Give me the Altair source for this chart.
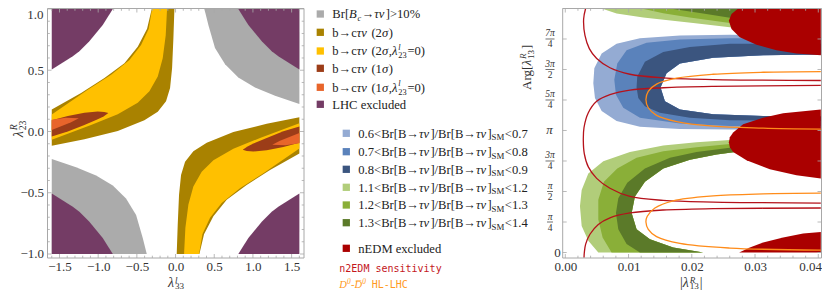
import math
import altair as alt
import pandas as pd

# ---------------- colours ----------------
C_BC, C_2S, C_2S0, C_1S, C_1S0, C_LHC = '#ABABAB', '#A98200', '#FFC000', '#9C3D18', '#E8652B', '#743C65'
C_B06, C_B07, C_B08 = '#94ABD3', '#5A82BB', '#3B557F'
C_G11, C_G12, C_G13 = '#B1CD7A', '#8AAF38', '#5B7A29'
C_NEDM, C_N2EDM, C_DD = '#AA0000', '#B5121B', '#FF8C1A'
SERIF, MONO = 'Liberation Serif', 'DejaVu Sans Mono'
TXT, TICK, FRAME = '#333333', '#A8A8A8', '#A8A8A8'

# ---------------- left panel data (x = lambda^l_33, y = lambda^R_23) ----------------
LHC_TR = [(0.811, 1.0), (0.941, 0.870), (1.114, 0.736), (1.243, 0.655), (1.328, 0.615), (1.6, 0.507), (1.6, 1.0)]
BC_TR = [(0.372, 1.0), (0.424, 0.870), (0.510, 0.682), (0.640, 0.548), (0.811, 0.440), (1.027, 0.359),
         (1.286, 0.291), (1.6, 0.224), (1.6, 1.0)]
B2S_BR = [(0.015, -1.0), (0.028, -0.759), (0.045, -0.516), (0.071, -0.355), (0.123, -0.247), (0.230, -0.161),
          (0.403, -0.091), (0.747, -0.005), (1.178, 0.063), (1.6, 0.117), (1.6, -0.180), (1.221, -0.314),
          (0.919, -0.436), (0.661, -0.557), (0.489, -0.692), (0.368, -0.839), (0.308, -1.0)]
B2S0_BR = [(0.110, -1.0), (0.127, -0.786), (0.166, -0.597), (0.230, -0.449), (0.338, -0.328), (0.489, -0.234),
           (0.747, -0.140), (1.092, -0.053), (1.6, 0.068), (1.6, -0.139), (1.135, -0.341), (0.833, -0.463),
           (0.596, -0.584), (0.446, -0.705), (0.347, -0.839), (0.304, -1.0)]
B1S_BR = [(0.868, -0.150), (0.930, -0.122), (1.006, -0.099), (1.178, -0.053), (1.393, 0.001), (1.6, 0.041),
          (1.6, -0.091), (1.393, -0.126), (1.178, -0.153), (1.006, -0.163), (0.920, -0.160)]
B1S0_BR = [(1.25, -0.108), (1.35, -0.075), (1.6, -0.012), (1.6, -0.095), (1.42, -0.112)]

def neg(p): return [(-x, -y) for x, y in p]
def fx(p): return [(-x, y) for x, y in p]
def fy(p): return [(x, -y) for x, y in p]

# ---------------- right panel data (x = |lambda^R_13|, y = Arg) ----------------
BLUE_HOLE = [(0.0404, 5.097), (0.03128, 5.081), (0.02338, 5.013), (0.01812, 4.869), (0.01601, 4.615),
             (0.01506, 4.252), (0.01575, 3.896), (0.01812, 3.685), (0.02338, 3.558), (0.03128, 3.516), (0.0404, 3.50)]
BLUE_06 = [(0.0404, 5.546), (0.03444, 5.588), (0.02602, 5.605), (0.01812, 5.588), (0.01180, 5.520), (0.00811, 5.377),
           (0.00575, 5.123), (0.00459, 4.742), (0.00443, 4.361), (0.00469, 3.981), (0.00575, 3.642), (0.00811, 3.389),
           (0.01180, 3.236), (0.01812, 3.177), (0.02602, 3.169), (0.0404, 3.169)]
BLUE_07 = [(0.0404, 5.486), (0.03444, 5.520), (0.02602, 5.520), (0.01812, 5.486), (0.01285, 5.402), (0.00969, 5.208),
           (0.00822, 4.869), (0.00775, 4.446), (0.00801, 4.065), (0.00917, 3.727), (0.01180, 3.473), (0.01812, 3.321),
           (0.02602, 3.257), (0.0404, 3.257)]
BLUE_08 = [(0.0404, 5.377), (0.02602, 5.377), (0.01970, 5.292), (0.01549, 5.165), (0.01259, 4.912), (0.01138, 4.530),
           (0.01127, 4.252), (0.01154, 3.981), (0.01259, 3.769), (0.01496, 3.600), (0.01970, 3.473), (0.02602, 3.405),
           (0.0404, 3.389)]
GREEN_HOLE = [(0.02180, 0.0), (0.01706, 0.131), (0.01338, 0.343), (0.01127, 0.596), (0.01049, 1.019), (0.01101, 1.443),
              (0.01259, 1.823), (0.01549, 2.162), (0.01970, 2.390), (0.02391, 2.525), (0.02865, 2.627)]
GREEN_11 = [(0.02865, 2.923), (0.02602, 2.898), (0.02075, 2.838), (0.01549, 2.754), (0.01022, 2.585), (0.00601, 2.352),
            (0.00364, 2.035), (0.00259, 1.612), (0.00232, 1.189), (0.00259, 0.681), (0.00364, 0.300), (0.00522, 0.0)]
GREEN_12 = [(0.02865, 2.821), (0.02602, 2.796), (0.02075, 2.711), (0.01549, 2.610), (0.01127, 2.441), (0.00822, 2.162),
            (0.00611, 1.823), (0.00522, 1.358), (0.00522, 0.850), (0.00590, 0.385), (0.00732, 0.0)]
GREEN_13 = [(0.02865, 2.728), (0.02602, 2.695), (0.02075, 2.585), (0.01654, 2.441), (0.01259, 2.162), (0.00980, 1.798),
            (0.00838, 1.400), (0.00801, 1.019), (0.00838, 0.596), (0.00969, 0.216), (0.01180, 0.0)]
GREEN_TOP_11 = [(0.00575, 6.283), (0.02865, 6.283), (0.02865, 5.715), (0.02602, 5.799), (0.02023, 5.909),
                (0.01233, 6.054), (0.00811, 6.155)]
GREEN_TOP_12 = [(0.01206, 6.283), (0.02865, 6.283), (0.02865, 5.859), (0.02602, 5.909), (0.01970, 6.054), (0.01549, 6.164)]
GREEN_TOP_13 = [(0.01654, 6.283), (0.02865, 6.283), (0.02865, 5.994), (0.02602, 6.045), (0.02180, 6.155)]
NEDM_TOP = [(0.02733, 6.283), (0.02628, 6.139), (0.02586, 5.969), (0.02628, 5.757), (0.02759, 5.546), (0.03023, 5.352),
            (0.03339, 5.208), (0.03655, 5.123), (0.0404, 5.081), (0.0404, 6.283)]
NEDM_MID = [(0.0404, 3.685), (0.03444, 3.583), (0.03128, 3.473), (0.02812, 3.304), (0.02654, 3.092), (0.02602, 2.965),
            (0.02586, 2.838), (0.02602, 2.711), (0.02654, 2.585), (0.02865, 2.373), (0.03234, 2.145), (0.03655, 1.992),
            (0.0404, 1.908)]
NEDM_BOT = [(0.02749, 0.0), (0.02918, 0.131), (0.03128, 0.258), (0.03444, 0.385), (0.03760, 0.487), (0.0404, 0.529),
            (0.0404, 0.0)]
N2EDM_1 = [(0.00322, 6.29), (0.00290, 6.011), (0.00311, 5.588), (0.00380, 5.250), (0.00496, 4.996), (0.00706, 4.758),
           (0.01022, 4.590), (0.01549, 4.497), (0.02338, 4.454), (0.0404, 4.429)]
N2EDM_2 = [(0.0404, 4.302), (0.02338, 4.277), (0.01549, 4.243), (0.01022, 4.184), (0.00706, 4.065), (0.00496, 3.896),
           (0.00364, 3.600), (0.00296, 3.219), (0.00285, 2.881), (0.00301, 2.542), (0.00364, 2.204), (0.00496, 1.908),
           (0.00706, 1.654), (0.01022, 1.443), (0.01549, 1.342), (0.02338, 1.299), (0.0404, 1.273)]
N2EDM_3 = [(0.0404, 1.146), (0.02338, 1.129), (0.01549, 1.095), (0.01022, 1.019), (0.00706, 0.893), (0.00522, 0.723),
           (0.00390, 0.470), (0.00322, 0.216), (0.00301, 0.0), (0.00296, -0.135)]
DD_1 = [(0.0404, 4.658), (0.03128, 4.641), (0.02338, 4.590), (0.01759, 4.488), (0.01443, 4.336), (0.01312, 4.150),
        (0.01275, 3.938), (0.01312, 3.727), (0.01443, 3.532), (0.01759, 3.372), (0.02338, 3.253), (0.03128, 3.202),
        (0.0404, 3.177)]
DD_2 = [(0.0404, 1.527), (0.03128, 1.510), (0.02338, 1.459), (0.01706, 1.332), (0.01417, 1.146), (0.01296, 0.935),
        (0.01275, 0.783), (0.01312, 0.596), (0.01443, 0.410), (0.01812, 0.233), (0.02602, 0.114), (0.0404, 0.063)]

# ---------------- ticks ----------------
LX_MAJOR = [-1.5, -1.0, -0.5, 0.0, 0.5, 1.0, 1.5]
LX_MINOR = [v / 10 for v in range(-16, 17) if v % 5 != 0]
LY_MAJOR = [-1.0, -0.5, 0.0, 0.5, 1.0]
LY_MINOR = [v / 10 for v in range(-10, 11) if v % 5 != 0]
RX_MAJOR = [0.0, 0.01, 0.02, 0.03, 0.04]
RX_MINOR = [v * 0.002 for v in range(0, 21) if v % 5 != 0]
RY_K = [0, 1, 2, 3, 4, 5, 6, 7, 8]
RY_FRAC = [(1, 'π', '4'), (2, 'π', '2'), (3, '3π', '4'), (5, '5π', '4'), (6, '3π', '2'), (7, '7π', '4')]

# ---------------- scales / axes ----------------
LX = alt.Scale(domain=[-1.655, 1.66], range=[39.5, 296], nice=False, zero=False)
LY = alt.Scale(domain=[-1.0327, 1.008], range=[250, 0], nice=False, zero=False)
RX = alt.Scale(domain=[-0.00041, 0.04051], range=[554.7, 813.5], nice=False, zero=False)
RY = alt.Scale(domain=[-0.1416, 6.296], range=[250, 0], nice=False, zero=False)
AXC = dict(domain=False, ticks=False, tickSize=0, grid=False, title=None, labelFont=SERIF,
           labelFontSize=13, labelColor=TXT, labelFlush=False)
LX_AX = alt.Axis(orient='bottom', offset=-33, values=LX_MAJOR, format='.1f', labelPadding=2.5, **AXC)
LY_AX = alt.Axis(orient='left', offset=-39.5, values=[-1.0, -0.5, 0.0, 0.5], format='.1f', labelPadding=4, **AXC)
RX_AX = alt.Axis(orient='bottom', offset=-33, values=RX_MAJOR[:-1], format='.2f', labelPadding=2.5, **AXC)


def pdf(polys):
    return pd.DataFrame([dict(pid=p, i=i, x=x, y=y) for p, pts in enumerate(polys) for i, (x, y) in enumerate(pts)])


def fill_layer(polys, color, xs, ys, xax, yax):
    return alt.Chart(pdf(polys)).mark_line(filled=True, fill=color, strokeWidth=0).encode(
        x=alt.X('x:Q', scale=xs, axis=xax), y=alt.Y('y:Q', scale=ys, axis=yax),
        order='i:Q', detail='pid:N')


def line_layer(lines, color, width, xs, ys, xax):
    return alt.Chart(pdf(lines)).mark_line(color=color, strokeWidth=width, interpolate='catmull-rom').encode(
        x=alt.X('x:Q', scale=xs, axis=xax), y=alt.Y('y:Q', scale=ys, axis=None),
        order='i:Q', detail='pid:N')


def xticks(vals, xs, xax, y1, y2):
    return alt.Chart(pd.DataFrame({'v': vals})).mark_rule(color=TICK, strokeWidth=0.8).encode(
        x=alt.X('v:Q', scale=xs, axis=xax), y=alt.value(y1), y2=alt.value(y2))


def yticks(vals, ys, yax, x1, x2):
    return alt.Chart(pd.DataFrame({'v': vals})).mark_rule(color=TICK, strokeWidth=0.8).encode(
        y=alt.Y('v:Q', scale=ys, axis=yax), x=alt.value(x1), x2=alt.value(x2))


# ---------------- left panel ----------------
left_layers = [
    fill_layer([BC_TR, neg(BC_TR)], C_BC, LX, LY, LX_AX, LY_AX),
    fill_layer([B2S_BR, neg(B2S_BR)], C_2S, LX, LY, LX_AX, LY_AX),
    fill_layer([B2S0_BR, neg(B2S0_BR)], C_2S0, LX, LY, LX_AX, LY_AX),
    fill_layer([B1S_BR, neg(B1S_BR)], C_1S, LX, LY, LX_AX, LY_AX),
    fill_layer([B1S0_BR, neg(B1S0_BR)], C_1S0, LX, LY, LX_AX, LY_AX),
    fill_layer([LHC_TR, fx(LHC_TR), neg(LHC_TR), fy(LHC_TR)], C_LHC, LX, LY, LX_AX, LY_AX),
    xticks(LX_MAJOR, LX, LX_AX, 250, 246), xticks(LX_MINOR, LX, LX_AX, 250, 247.7),
    xticks(LX_MAJOR, LX, LX_AX, 0.5, 4.5), xticks(LX_MINOR, LX, LX_AX, 0.5, 2.8),
    yticks(LY_MAJOR, LY, LY_AX, 39.5, 43.5), yticks(LY_MINOR, LY, LY_AX, 39.5, 41.8),
    yticks(LY_MAJOR, LY, LY_AX, 296, 292), yticks(LY_MINOR, LY, LY_AX, 296, 293.7),
    alt.Chart(pd.DataFrame({'v': [1.0], 't': ['1.0']})).mark_text(
        align='right', baseline='top', font=SERIF, fontSize=13, color=TXT).encode(
        x=alt.value(35.5), y=alt.Y('v:Q', scale=LY, axis=LY_AX), text='t:N'),
]
left = alt.layer(*left_layers)

# ---------------- right panel ----------------
frac = pd.DataFrame([dict(t=k * math.pi / 4, num=n, den=d, bx1=542 - (4.5 if len(n) > 1 else 3),
                          bx2=542 + (4.5 if len(n) > 1 else 3)) for k, n, d in RY_FRAC])
single = pd.DataFrame([dict(t=0.0, s='0')])
single_pi = pd.DataFrame([dict(t=math.pi, s='π')])
last_x = pd.DataFrame([dict(v=RX_MAJOR[-1], s='0.04')])
right_layers = [
    fill_layer([BLUE_06 + BLUE_HOLE[::-1]], C_B06, RX, RY, RX_AX, None),
    fill_layer([BLUE_07 + BLUE_HOLE[::-1]], C_B07, RX, RY, RX_AX, None),
    fill_layer([BLUE_08 + BLUE_HOLE[::-1]], C_B08, RX, RY, RX_AX, None),
    fill_layer([GREEN_11 + GREEN_HOLE, GREEN_TOP_11], C_G11, RX, RY, RX_AX, None),
    fill_layer([GREEN_12 + GREEN_HOLE, GREEN_TOP_12], C_G12, RX, RY, RX_AX, None),
    fill_layer([GREEN_13 + GREEN_HOLE, GREEN_TOP_13], C_G13, RX, RY, RX_AX, None),
    fill_layer([NEDM_TOP, NEDM_MID, NEDM_BOT], C_NEDM, RX, RY, RX_AX, None),
    line_layer([N2EDM_1, N2EDM_2, N2EDM_3], C_N2EDM, 1.3, RX, RY, RX_AX),
    line_layer([DD_1, DD_2], C_DD, 1.3, RX, RY, RX_AX),
    xticks(RX_MAJOR, RX, RX_AX, 250, 246), xticks(RX_MINOR, RX, RX_AX, 250, 247.7),
    xticks(RX_MAJOR, RX, RX_AX, 0.5, 4.5), xticks(RX_MINOR, RX, RX_AX, 0.5, 2.8),
    yticks([k * math.pi / 4 for k in RY_K], RY, None, 554.7, 558.7),
    yticks([k * math.pi / 4 for k in RY_K], RY, None, 813.5, 809.5),
    alt.Chart(last_x).mark_text(align='right', baseline='top', font=SERIF, fontSize=13, color=TXT).encode(
        x=alt.value(814), y=alt.value(252.5), text='s:N'),
    alt.Chart(frac).mark_text(align='center', baseline='alphabetic', font=SERIF, fontStyle='italic',
                              fontSize=9.5, color=TXT, dy=-2.5).encode(
        x=alt.value(542), y=alt.Y('t:Q', scale=RY, axis=None), text='num:N'),
    alt.Chart(frac).mark_text(align='center', baseline='alphabetic', font=SERIF,
                              fontSize=9.5, color=TXT, dy=8.5).encode(
        x=alt.value(542), y=alt.Y('t:Q', scale=RY, axis=None), text='den:N'),
    alt.Chart(frac).mark_rule(color=TXT, strokeWidth=0.7).encode(
        x=alt.X('bx1:Q', scale=None), x2='bx2:Q', y=alt.Y('t:Q', scale=RY, axis=None)),
    alt.Chart(single).mark_text(align='center', baseline='middle', font=SERIF, fontSize=13, color=TXT).encode(
        x=alt.value(549.5), y=alt.Y('t:Q', scale=RY, axis=None), text='s:N'),
    alt.Chart(single_pi).mark_text(align='center', baseline='middle', font=SERIF, fontStyle='italic',
                                   fontSize=13, color=TXT).encode(
        x=alt.value(541.5), y=alt.Y('t:Q', scale=RY, axis=None), text='s:N'),
]
right = alt.layer(*right_layers)

# ---------------- legend and titles (text) ----------------
W = {'.': .25, ',': .25, '<': .564, '>': .564, '=': .564, '%': .833, '/': .278, '[': .333, ']': .333,
     '(': .333, ')': .333, ' ': .25, '|': .2, '-': .333, '–': .5, '→': 1.0, 'τ': .44, 'ν': .47, 'σ': .55,
     'λ': .5, 'π': .55, 'A': .722, 'B': .667, 'C': .667, 'D': .722, 'E': .611, 'H': .722, 'L': .611,
     'M': .889, 'N': .722, 'R': .667, 'S': .556, 'a': .444, 'b': .5, 'c': .444, 'd': .5, 'e': .444,
     'g': .5, 'i': .278, 'l': .278, 'n': .5, 'r': .333, 's': .389, 't': .278, 'u': .5, 'v': .5,
     'x': .5, 'y': .5, '\u0305': 0.0}


def tw(s, size):
    return sum(W.get(c, 0.5) for c in s) * size


def set_text(segs, x0, y0, size, color, angle=0, font=SERIF, ratio=0.7, up=0.40, down=0.20):
    a = math.radians(angle)
    rx, ry = math.cos(a), math.sin(a)
    ux, uy = math.sin(a), -math.cos(a)
    out, d = [], 0.0
    for seg in segs:
        kind = seg[0]
        s2 = size * ratio
        if kind in ('n', 'i'):
            items, adv = [(seg[1], kind, size, 0.0)], tw(seg[1], size)
        elif kind == 'sub':
            items, adv = [(seg[1], seg[2], s2, -0.22 * size)], tw(seg[1], s2) + 0.5
        elif kind == 'sup':
            items, adv = [(seg[1], seg[2], s2, up * size)], tw(seg[1], s2) + 0.5
        else:
            items = [(seg[1], seg[3], s2, up * size), (seg[2], 'n', s2, -down * size)]
            adv = max(tw(seg[1], s2), tw(seg[2], s2)) + 0.8
        for t, st, sz, h in items:
            lead = len(t) - len(t.lstrip(' '))   # SVG drops leading blanks: shift instead
            dd = d + lead * W[' '] * sz
            out.append(dict(px=x0 + dd * rx + h * ux, py=y0 + dd * ry + h * uy, txt=t.strip(' '), sz=sz,
                            st=st, col=color, ang=float(angle), font=font))
        d += adv
    return out


def bct(n, zero):
    s = [('n', 'b→c'), ('i', 'τν'), ('n', ' (' + n), ('i', 'σ')]
    if zero:
        s += [('n', ','), ('i', 'λ'), ('subsup', 'l', '23', 'i'), ('n', '=0)')]
    else:
        s += [('n', ')')]
    return s


LEGEND_1 = [(C_BC, [('n', 'Br['), ('i', 'B'), ('sub', 'c', 'i'), ('n', '→'), ('i', 'τν'), ('n', ']>10%')]),
            (C_2S, bct('2', False)), (C_2S0, bct('2', True)), (C_1S, bct('1', False)), (C_1S0, bct('1', True)),
            (C_LHC, [('n', 'LHC excluded')])]
LEGEND_1_Y = [6, 24.3, 43, 60.3, 79.3, 96.3]
RANGES = [('0.6', '0.7'), ('0.7', '0.8'), ('0.8', '0.9'), ('1.1', '1.2'), ('1.2', '1.3'), ('1.3', '1.4')]
LEGEND_2 = [(c, [('n', lo + '<Br[B→'), ('i', 'τν'), ('n', ']/Br[B→'), ('i', 'τν'), ('n', ']'), ('sub', 'SM', 'n'),
                 ('n', '<' + hi)]) for c, (lo, hi) in zip([C_B06, C_B07, C_B08, C_G11, C_G12, C_G13], RANGES)]
LEGEND_2 += [(C_NEDM, [('n', 'nEDM excluded')])]
LEGEND_2_Y = [125.3, 143.7, 161.3, 179.3, 197, 214.7, 240.3]

texts, squares = [], []
FS = 12.6
for (c, segs), yc in zip(LEGEND_1, LEGEND_1_Y):
    squares.append(dict(sx=312.3, sy=yc, col=c))
    texts += set_text(segs, 324.3, yc + 4.2, FS, '#222222', ratio=0.66, up=0.42, down=0.24)
for (c, segs), yc in zip(LEGEND_2, LEGEND_2_Y):
    squares.append(dict(sx=338.3, sy=yc, col=c))
    texts += set_text(segs, 350.3, yc + 4.2, FS, '#222222')
texts += set_text([('n', 'n2EDM sensitivity')], 331.3, 263.8, 10, '#C4161C', font=MONO)
texts += set_text([('i', 'D'), ('sup', '0', 'i'), ('n', '-'), ('i', 'D\u0305'), ('sup', '0', 'i')],
                  331.3, 279.8, 10.5, '#FF9922')
texts += set_text([('n', 'HL-LHC')], 363.7, 279.8, 10, '#FF9922', font=MONO)
# axis titles
texts += set_text([('i', 'λ'), ('subsup', 'l', '33', 'i')], 160, 279.3, 14, TXT, ratio=0.65, up=0.32, down=0.12)
texts += set_text([('n', '|'), ('i', 'λ'), ('subsup', 'R', '13', 'i'), ('n', '|')], 672, 279.3, 14, TXT,
                  ratio=0.65, up=0.32, down=0.12)
texts += set_text([('i', 'λ'), ('subsup', 'R', '23', 'i')], 15, 129.3, 14, TXT, angle=270)
texts += set_text([('n', 'Arg['), ('i', 'λ'), ('subsup', 'R', '13', 'i'), ('n', ']')], 523, 82, 13, TXT, angle=270)

tdf = pd.DataFrame(texts)
deco_layers = [
    alt.Chart(pd.DataFrame({'a': [0]})).mark_rect(fillOpacity=0, stroke=FRAME, strokeWidth=1).encode(
        x=alt.value(39.5), x2=alt.value(296), y=alt.value(0.5), y2=alt.value(250)),
    alt.Chart(pd.DataFrame({'a': [0]})).mark_rect(fillOpacity=0, stroke=FRAME, strokeWidth=1).encode(
        x=alt.value(554.7), x2=alt.value(813.5), y=alt.value(0.5), y2=alt.value(250)),
    alt.Chart(pd.DataFrame(squares)).mark_square(size=53, opacity=1).encode(
        x=alt.X('sx:Q', scale=None), y=alt.Y('sy:Q', scale=None), color=alt.Color('col:N', scale=None)),
]
for (st, ang, font), g in tdf.groupby(['st', 'ang', 'font']):
    deco_layers.append(
        alt.Chart(g.reset_index(drop=True)).mark_text(
            align='left', baseline='alphabetic', font=font,
            fontStyle='italic' if st == 'i' else 'normal', angle=float(ang)).encode(
            x=alt.X('px:Q', scale=None), y=alt.Y('py:Q', scale=None), text='txt:N',
            size=alt.Size('sz:Q', scale=None), color=alt.Color('col:N', scale=None)))
deco = alt.layer(*deco_layers)

chart = alt.layer(left, right, deco).resolve_scale(x='independent', y='independent').properties(
    width=814, height=283, padding=0, autosize=alt.AutoSizeParams(type='none')
).configure_view(strokeWidth=0)

chart.save('out.html', embed_options={'renderer': 'svg', 'actions': False})
